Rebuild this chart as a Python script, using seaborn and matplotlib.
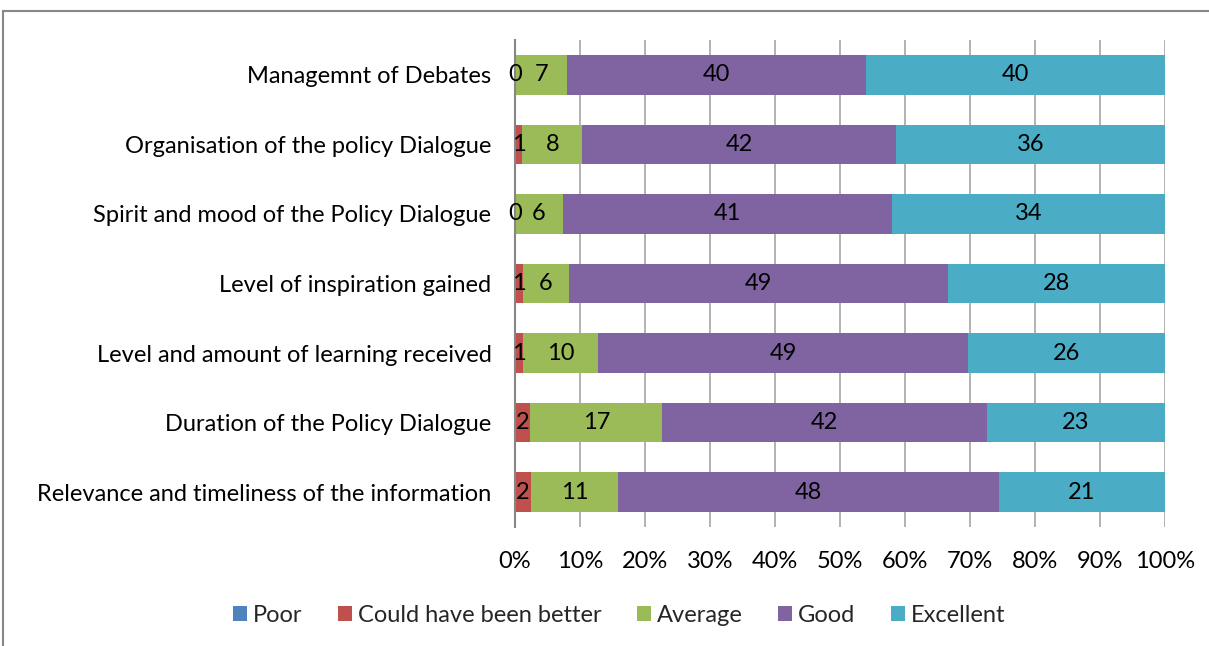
import numpy as np
import pandas as pd
import matplotlib
matplotlib.use("Agg")
import matplotlib.pyplot as plt
import seaborn as sns
from matplotlib.patches import Rectangle, Patch
from matplotlib.ticker import PercentFormatter

categories = [
    "Managemnt of Debates",
    "Organisation of the policy Dialogue",
    "Spirit and mood of the Policy Dialogue",
    "Level of inspiration gained",
    "Level and amount of learning received",
    "Duration of the Policy Dialogue",
    "Relevance and timeliness of the information",
]
series_names = ["Poor", "Could have been better", "Average", "Good", "Excellent"]
poor = [0, 0, 0, 0, 0, 0, 0]
could_be_better = [0, 1, 0, 1, 1, 2, 2]
average = [7, 8, 6, 6, 10, 17, 11]
good = [40, 42, 41, 49, 49, 42, 48]
excellent = [40, 36, 34, 28, 26, 23, 21]
show_label = [False, True, True, True, True]
x_ticks = [0, 10, 20, 30, 40, 50, 60, 70, 80, 90, 100]

colors = ["#4F81BD", "#C0504D", "#9BBB59", "#8064A2", "#4BACC6"]

sns.set_theme(style="white")
plt.rcParams["font.family"] = ["Lato", "DejaVu Sans"]

values = np.array([poor, could_be_better, average, good, excellent], dtype=float)
totals = values.sum(axis=0)
pct = values / totals * 100
cum = np.cumsum(pct, axis=0)

df = pd.DataFrame({"category": categories})
for i, name in enumerate(series_names):
    df[name] = cum[i]

fig = plt.figure(figsize=(12.09, 6.46), dpi=100)
ax = fig.add_axes([515 / 1209, 1 - 527 / 646, 650 / 1209, 487 / 646])

for i in reversed(range(len(series_names))):
    sns.barplot(data=df, y="category", x=series_names[i], color=colors[i],
                orient="h", width=0.57, saturation=1, ax=ax, zorder=2,
                linewidth=0)

fs = 17
for i, name in enumerate(series_names):
    if not show_label[i]:
        continue
    start = cum[i - 1] if i > 0 else np.zeros(len(categories))
    for j in range(len(categories)):
        xc = (start[j] + cum[i][j]) / 2
        ax.text(xc, j, f"{int(values[i][j])}", ha="center", va="center",
                fontsize=fs, color="black", zorder=5)

ax.set_xlim(0, 100)
ax.set_ylim(len(categories) - 0.5, -0.5)
ax.set_xticks(x_ticks)
ax.xaxis.set_major_formatter(PercentFormatter(decimals=0))
ax.set_xlabel("")
ax.set_ylabel("")
ax.grid(axis="x", color="#A6A6A6", linewidth=1.2, zorder=0)
ax.set_axisbelow(True)
for s in ["top", "right", "bottom"]:
    ax.spines[s].set_visible(False)
ax.spines["left"].set_color("#868686")
ax.spines["left"].set_linewidth(1.5)
ax.tick_params(axis="x", length=0, pad=17, labelsize=fs, colors="black")
ax.tick_params(axis="y", length=0, pad=17, labelsize=fs, colors="black")

handles = [Patch(facecolor=c, edgecolor="none") for c in colors]
fig.legend(handles, series_names, loc="center", bbox_to_anchor=(0.512, 1 - 615 / 646),
           ncol=5, frameon=False, fontsize=fs, handlelength=0.6, handleheight=0.6,
           handletextpad=0.25, columnspacing=1.5)

fig.patches.append(Rectangle((3 / 1209, -0.1), 1.2, 1 - 11 / 646 + 0.1,
                             transform=fig.transFigure, fill=False,
                             edgecolor="#868686", linewidth=1.5, zorder=0))

fig.savefig("out.png", dpi=100)
